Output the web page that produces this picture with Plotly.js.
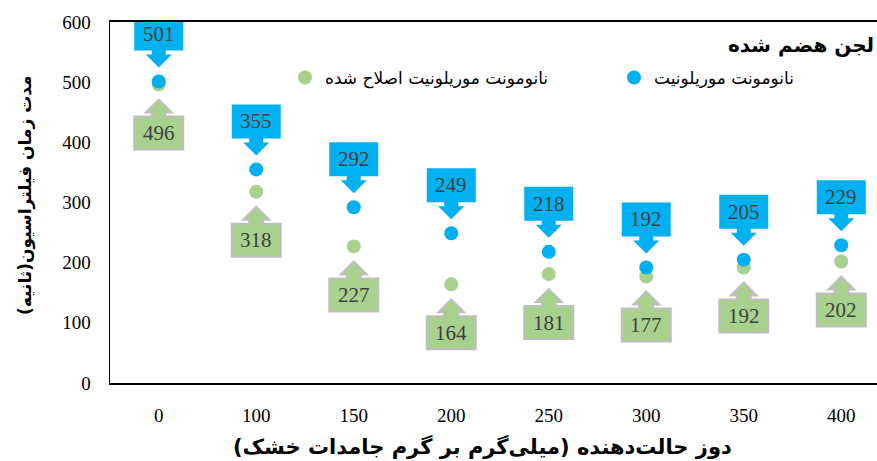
<!DOCTYPE html>
<html>
<head>
<meta charset="utf-8">
<script src="https://cdn.plot.ly/plotly-3.0.1.min.js"></script>
<style>
html,body{margin:0;padding:0;width:877px;height:461px;overflow:hidden;background:#fff;}
#chart{width:900px;height:461px;}
</style>
</head>
<body>
<div id="chart"></div>
<script>
const categories = ["0","100","150","200","250","300","350","400"];
const blueValues = [501,355,292,249,218,192,205,229];
const greenValues = [496,318,227,164,181,177,192,202];
const yTicks = [0,100,200,300,400,500,600];
const blueName = "نانومونت موریلونیت";
const greenName = "نانومونت موریلونیت اصلاح شده";
const chartTitle = "لجن هضم شده";
const xTitle = "دوز حالت‌دهنده (میلی‌گرم بر گرم جامدات خشک)";
const yTitle = "مدت زمان فیلتراسیون(ثانیه)";

const BLUE = "#00B0F0", GREEN = "#A9D18E";
const FONT = "Liberation Serif, DejaVu Sans, serif";
const PFONT = "DejaVu Sans, Liberation Serif, sans-serif";

const traces = [
  {type:"scatter", mode:"markers", name:greenName, x:categories, y:greenValues,
   marker:{color:GREEN, size:14}, hoverinfo:"skip", legend:"legend"},
  {type:"scatter", mode:"markers", name:blueName, x:categories, y:blueValues,
   marker:{color:BLUE, size:14}, hoverinfo:"skip", legend:"legend2"}
];

const bluePath = "M -24.5,65 L 24.5,65 L 24.5,31 L 7,31 L 7,27 L 13,27 L 0,14 L -13,27 L -7,27 L -7,31 L -24.5,31 Z";
const greenPath = "M -24.5,-65 L 24.5,-65 L 24.5,-32 L 7,-32 L 7,-28 L 13,-28 L 0,-15 L -13,-28 L -7,-28 L -7,-32 L -24.5,-32 Z";

const shapes = [];
const annotations = [];
categories.forEach((c,i)=>{
  shapes.push({type:"path", xref:"x", yref:"y", xsizemode:"pixel", ysizemode:"pixel",
    xanchor:i, yanchor:blueValues[i], path:bluePath, fillcolor:BLUE, line:{width:0}});
  shapes.push({type:"path", xref:"x", yref:"y", xsizemode:"pixel", ysizemode:"pixel",
    xanchor:i, yanchor:greenValues[i], path:greenPath, fillcolor:GREEN, line:{color:"#BFBFBF", width:2}});
  annotations.push({x:i, y:blueValues[i], xref:"x", yref:"y", yshift:48, text:String(blueValues[i]),
    showarrow:false, font:{family:FONT, size:21, color:"#404040"}});
  annotations.push({x:i, y:greenValues[i], xref:"x", yref:"y", yshift:-48.5, text:String(greenValues[i]),
    showarrow:false, font:{family:FONT, size:21, color:"#404040"}});
});

annotations.push({xref:"paper", yref:"paper", x:(876-110)/780, y:0.936, xanchor:"right", yanchor:"middle",
  text:"<b>"+chartTitle+"</b>", showarrow:false, font:{family:PFONT, size:20, color:"#000"}});
annotations.push({xref:"paper", yref:"paper", x:(482-110)/780, y:-0.177, xanchor:"center", yanchor:"middle",
  text:"<b>"+xTitle+"</b>", showarrow:false, font:{family:PFONT, size:21, color:"#000"}});
annotations.push({xref:"paper", yref:"paper", x:-0.109, y:(383-195)/361, xanchor:"center", yanchor:"middle",
  textangle:-90, text:"<b>"+yTitle+"</b>", showarrow:false, font:{family:PFONT, size:17, color:"#000"}});

const legendBase = {orientation:"h", yanchor:"middle", xanchor:"left",
  font:{family:PFONT, size:17, color:"#000"}, bgcolor:"rgba(0,0,0,0)",
  itemclick:false, itemdoubleclick:false};

const layout = {
  width:900, height:461,
  margin:{l:110, r:10, t:22, b:78},
  paper_bgcolor:"#fff", plot_bgcolor:"#fff",
  showlegend:true,
  legend:Object.assign({}, legendBase, {x:(285-110)/780, y:(383-78)/361}),
  legend2:Object.assign({}, legendBase, {x:(614-110)/780, y:(383-78)/361}),
  xaxis:{type:"category", range:[-0.5,7.5], showgrid:false, zeroline:false,
    showline:true, linecolor:"#000", linewidth:2, mirror:true, ticks:"",
    ticklabelstandoff:14, tickfont:{family:FONT, size:19, color:"#000"}, fixedrange:true},
  yaxis:{range:[0,600], tickvals:yTicks, showgrid:false, zeroline:false,
    showline:true, linecolor:"#000", linewidth:1.5, mirror:true, ticks:"",
    ticklabelstandoff:14, tickfont:{family:FONT, size:19, color:"#000"}, fixedrange:true},
  shapes:shapes,
  annotations:annotations
};

Plotly.newPlot("chart", traces, layout, {displayModeBar:false, staticPlot:true});
</script>
</body>
</html>
